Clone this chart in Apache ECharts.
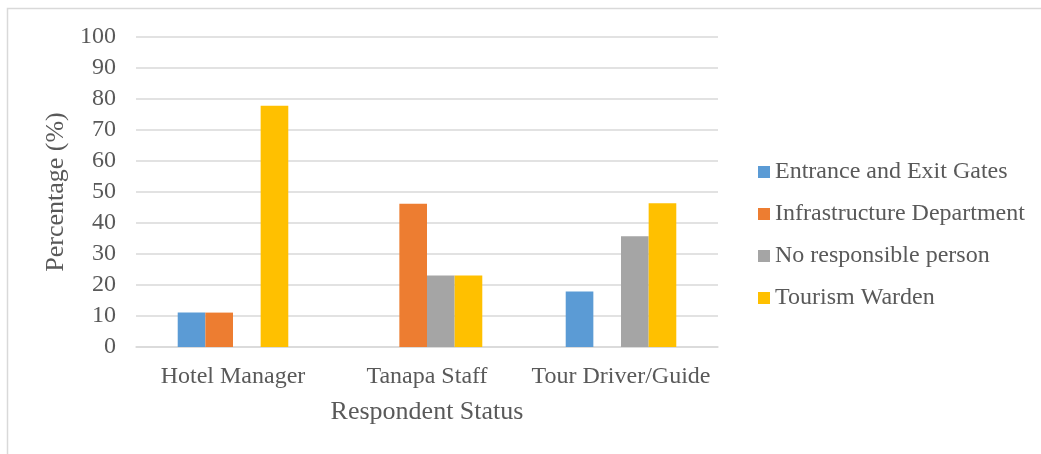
<!DOCTYPE html>
<html>
<head>
<meta charset="utf-8">
<script src="https://cdn.jsdelivr.net/npm/echarts@6/dist/echarts.min.js"></script>
<style>
  html, body { margin: 0; padding: 0; background: #fff; }
  #chart { width: 1041px; height: 454px; }
</style>
</head>
<body>
<div id="chart"></div>
<script>
const categories = ["Hotel Manager", "Tanapa Staff", "Tour Driver/Guide"];
const seriesNames = ["Entrance and Exit Gates", "Infrastructure Department", "No responsible person", "Tourism Warden"];
const entranceExit = [11.1, 0, 17.9];
const infrastructure = [11.1, 46.2, 0];
const noResponsible = [0, 23.1, 35.7];
const tourismWarden = [77.8, 23.1, 46.4];
const colors = ["#5b9bd5", "#ed7d31", "#a5a5a5", "#ffc000"];

const font = "'Liberation Serif', 'DejaVu Serif', serif";
const textColor = "#595959";

const chart = echarts.init(document.getElementById("chart"));
const allValues = [entranceExit, infrastructure, noResponsible, tourismWarden];

const option = {
  animation: false,
  color: colors,
  textStyle: { fontFamily: font },
  graphic: [{
    type: "rect",
    shape: { x: 7.5, y: 8.5, width: 1200, height: 600 },
    style: { fill: null, stroke: "#d9d9d9", lineWidth: 1.5 },
    silent: true
  }],
  grid: { left: 136, right: 323, top: 37, bottom: 107 },
  legend: {
    orient: "vertical",
    left: 753,
    top: 155,
    itemWidth: 12,
    itemHeight: 12,
    itemGap: 18,
    icon: "rect",
    textStyle: { fontFamily: font, fontSize: 24, lineHeight: 24, color: textColor },
    data: seriesNames
  },
  xAxis: {
    type: "category",
    data: categories,
    name: "Respondent Status",
    nameLocation: "middle",
    nameGap: 52,
    nameTextStyle: { fontFamily: font, fontSize: 26, color: textColor },
    axisLine: { show: true, lineStyle: { color: "#d9d9d9", width: 1.5 } },
    axisTick: { show: false },
    axisLabel: { interval: 0, fontFamily: font, fontSize: 24, color: textColor, margin: 18 }
  },
  yAxis: {
    type: "value",
    min: 0,
    max: 100,
    interval: 10,
    name: "Percentage (%)",
    nameLocation: "middle",
    nameGap: 61,
    nameTextStyle: { fontFamily: font, fontSize: 26, color: textColor },
    axisLine: { show: false },
    axisTick: { show: false },
    axisLabel: { fontFamily: font, fontSize: 24, color: textColor, margin: 20 },
    splitLine: { lineStyle: { color: "#d9d9d9", width: 1.5 } }
  },
  series: seriesNames.map((name, i) => ({
    name: name,
    type: "bar",
    data: allValues[i],
    barGap: "0%",
    barCategoryGap: "43%",
    itemStyle: { color: colors[i] }
  }))
};

chart.setOption(option);
</script>
</body>
</html>
